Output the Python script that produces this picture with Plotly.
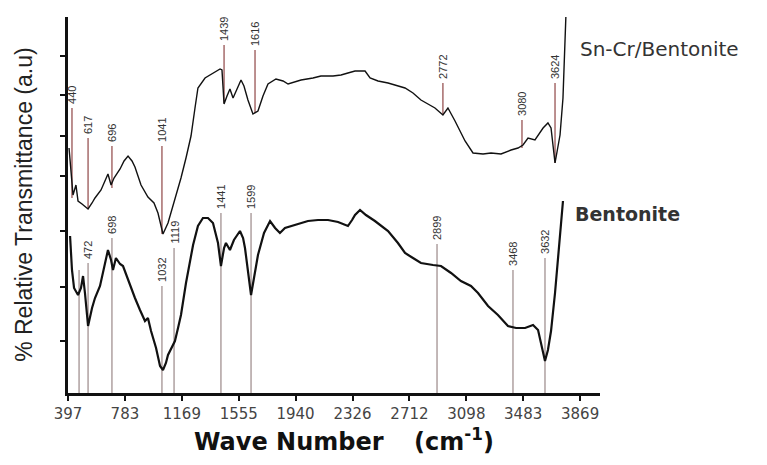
#!/usr/bin/env python3
"""FTIR spectra of Bentonite and Sn-Cr/Bentonite, redrawn with plotly."""

import plotly.graph_objects as go

# x axis ticks (wave number, cm-1)
tick_vals = [397, 783, 1169, 1555, 1940, 2326, 2712, 3098, 3483, 3869]

# Sn-Cr/Bentonite spectrum (arbitrary transmittance units)
sncr_wn = [404, 417, 431, 451, 465, 492, 533, 560, 580, 621, 648, 668, 689, 709, 750,
           777, 804, 831, 851, 892, 939, 980, 1007, 1041, 1075, 1095, 1129, 1163, 1197,
           1231, 1258, 1278, 1326, 1373, 1428, 1441, 1455, 1475, 1495, 1516, 1543, 1570,
           1590, 1617, 1651, 1685, 1719, 1753, 1807, 1855, 1889, 1977, 2058, 2112, 2194,
           2248, 2295, 2343, 2411, 2445, 2499, 2567, 2682, 2736, 2790, 2885, 2939, 2973,
           3021, 3089, 3143, 3211, 3265, 3333, 3401, 3448, 3482, 3516, 3563, 3618, 3651,
           3672, 3699, 3733, 3753, 3773]
sncr_t = [245, 220, 198, 208, 192, 189, 184, 190, 195, 203, 213, 219, 208, 215, 224,
          232, 237, 232, 226, 208, 196, 190, 180, 159, 170, 180, 198, 215, 235,
          257, 285, 305, 315, 319, 324, 323, 289, 297, 304, 295, 305, 313,
          307, 293, 279, 282, 297, 309, 314, 312, 309, 313, 315, 317, 317,
          318, 320, 322, 322, 315, 312, 310, 305, 300, 293, 285, 278, 285,
          272, 252, 240, 239, 240, 239, 243, 245, 248, 255, 253, 265, 270,
          265, 230, 258, 295, 378]

# Bentonite spectrum
bent_wn = [411, 424, 438, 465, 485, 499, 512, 533, 560, 580, 614, 641, 668, 689, 702,
           722, 750, 770, 804, 851, 885, 919, 939, 960, 994, 1021, 1041, 1061, 1075,
           1102, 1122, 1143, 1163, 1197, 1245, 1278, 1312, 1346, 1380, 1414, 1434, 1455,
           1468, 1495, 1522, 1563, 1584, 1597, 1617, 1638, 1658, 1685, 1726, 1767, 1801,
           1834, 1868, 1909, 1956, 2024, 2092, 2160, 2228, 2295, 2323, 2343, 2377, 2417,
           2478, 2567, 2634, 2682, 2736, 2790, 2872, 2926, 2994, 3061, 3129, 3177, 3245,
           3312, 3380, 3435, 3496, 3550, 3584, 3597, 3618, 3631, 3651, 3672, 3699, 3726,
           3753]
bent_t = [157, 123, 105, 98, 105, 117, 100, 67, 85, 95, 107, 125, 143, 133, 123,
          135, 129, 127, 113, 95, 83, 72, 75, 62, 45, 27, 23, 30, 38,
          47, 52, 65, 78, 110, 148, 167, 175, 175, 170, 150, 127, 145,
          150, 143, 153, 162, 155, 145, 123, 98, 115, 138, 160, 172, 165,
          160, 165, 167, 169, 172, 173, 173, 171, 167, 173, 178, 183, 178,
          172, 162, 150, 140, 135, 130, 128, 127, 120, 112, 107, 100, 87,
          78, 67, 65, 65, 68, 63, 55, 40, 32, 43, 62, 100, 145,
          192]

# marked bands: position, label, marker top, marker bottom
sncr_peak_wn = [424, 533, 695, 1034, 1455, 1665, 2939, 3475, 3699]
sncr_peak_lbl = ["440", "617", "696", "1041", "1439", "1616", "2772", "3080", "3624"]
sncr_peak_top = [285, 255, 247, 247, 348, 343, 310, 273, 310]
sncr_peak_bot = [195, 185, 205, 159, 290, 280, 278, 245, 230]

bent_peak_wn = [472, 533, 695, 1034, 1116, 1434, 1638, 2899, 3414, 3631]
bent_peak_lbl = ["", "472", "698", "1032", "1119", "1441", "1599", "2899", "3468", "3632"]
bent_peak_top = [123, 130, 155, 107, 145, 180, 180, 149, 123, 135]

FONT = "Liberation Sans, Arial, sans-serif"
WIDE = "DejaVu Sans, Verdana, sans-serif"
NARROW = "Liberation Sans Narrow, Arial Narrow, Liberation Sans, sans-serif"


def marker_path(xs, tops, bots):
    px, py = [], []
    for x, t, b in zip(xs, tops, bots):
        px += [x, x, None]
        py += [b, t, None]
    return px, py


fig = go.Figure()

mx, my = marker_path(sncr_peak_wn, sncr_peak_top, sncr_peak_bot)
fig.add_trace(go.Scatter(x=mx, y=my, mode="lines",
                         line=dict(color="#8f4545", width=1.2), hoverinfo="skip"))
mx, my = marker_path(bent_peak_wn, bent_peak_top, [0] * len(bent_peak_wn))
fig.add_trace(go.Scatter(x=mx, y=my, mode="lines",
                         line=dict(color="#9a8888", width=1.2), hoverinfo="skip"))

fig.add_trace(go.Scatter(x=sncr_wn, y=sncr_t, mode="lines", name="Sn-Cr/Bentonite",
                         line=dict(color="#111111", width=1.4)))
fig.add_trace(go.Scatter(x=bent_wn, y=bent_t, mode="lines", name="Bentonite",
                         line=dict(color="#111111", width=2.2)))

for x, lbl, top in list(zip(sncr_peak_wn, sncr_peak_lbl, sncr_peak_top)) + \
        list(zip(bent_peak_wn, bent_peak_lbl, bent_peak_top)):
    if not lbl:
        continue
    fig.add_annotation(x=x, y=top, text=lbl, textangle=-90, showarrow=False,
                       xanchor="center", yanchor="bottom", yshift=2,
                       font=dict(family=NARROW, size=11, color="#333333"))

# series names next to the curve ends
fig.add_annotation(x=3855, y=344, text="Sn-Cr/Bentonite",
                   xanchor="left", yanchor="middle", showarrow=False,
                   font=dict(family=WIDE, size=20, color="#333333"))
fig.add_annotation(x=3821, y=179, text="<b>Bentonite</b>",
                   xanchor="left", yanchor="middle", showarrow=False,
                   font=dict(family=WIDE, size=19, color="#333333"))

# axis titles
fig.add_annotation(xref="paper", yref="paper", x=-0.083, y=0.5,
                   text="% Relative Transmittance (a.u)", textangle=-90,
                   xanchor="center", yanchor="middle", showarrow=False,
                   font=dict(family=FONT, size=23, color="#222222"))
fig.add_annotation(xref="paper", yref="paper", x=0.519, y=-0.125,
                   text="<b>Wave Number</b>    <b>(cm<sup>-1</sup>)</b>",
                   xanchor="center", yanchor="middle", showarrow=False,
                   font=dict(family=WIDE, size=24, color="#111111"))

fig.update_layout(
    width=767, height=465,
    margin=dict(l=60, r=175, t=9, b=80),
    paper_bgcolor="white", plot_bgcolor="white",
    showlegend=False,
    font=dict(family=FONT),
)
fig.update_xaxes(range=[397, 4004], tickvals=tick_vals, ticktext=[str(v) for v in tick_vals],
                 showgrid=False, zeroline=False, showline=True, linecolor="#111111",
                 linewidth=3, ticks="outside", ticklen=5, tickwidth=2, tickcolor="#111111",
                 tickfont=dict(family=WIDE, size=15, color="#444444"))
fig.update_yaxes(range=[0, 376], tickvals=[52, 106, 162, 217, 257, 298, 337],
                 showticklabels=False, showgrid=False, zeroline=False, showline=True,
                 linecolor="#111111", linewidth=3, ticks="outside", ticklen=5,
                 tickwidth=2, tickcolor="#111111")

fig.write_html("out.html")
